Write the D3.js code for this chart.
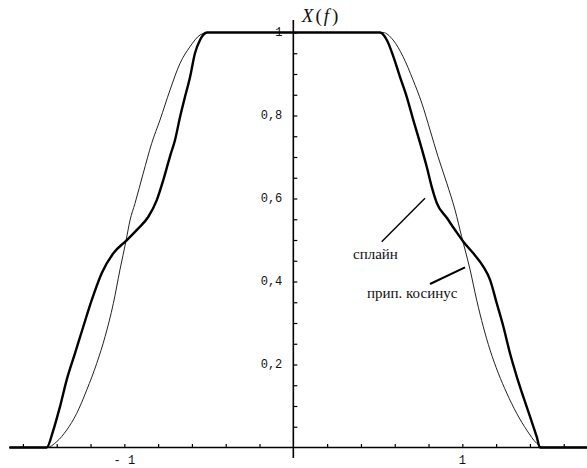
<!DOCTYPE html>
<html>
<head>
<meta charset="utf-8">
<script src="https://cdn.jsdelivr.net/npm/d3@7"></script>
<style>
html,body{margin:0;padding:0;background:#fff;}
svg{display:block;}
</style>
</head>
<body>
<svg id="chart" width="587" height="468"></svg>
<script>
// Spline ("сплайн") curve: [f, X(f)]
const splineF = [-1.68,-1.46,-1.42,-1.381,-1.341,-1.292,-1.243,-1.193,-1.134,-1.065,-0.99,-0.917,-0.858,-0.808,-0.769,-0.73,-0.70,-0.67,-0.641,-0.611,-0.582,-0.552,-0.51,
  0.513,0.553,0.592,0.631,0.671,0.71,0.75,0.789,0.819,0.849,0.909,0.957,1.006,1.065,1.124,1.164,1.204,1.243,1.282,1.322,1.361,1.401,1.44,1.46,1.74];
const splineX = [0,0,0.042,0.098,0.163,0.227,0.291,0.355,0.42,0.468,0.498,0.528,0.556,0.596,0.645,0.701,0.741,0.797,0.845,0.893,0.95,0.982,1,
  1,0.982,0.942,0.893,0.845,0.789,0.734,0.677,0.628,0.589,0.553,0.524,0.496,0.468,0.436,0.404,0.347,0.291,0.227,0.171,0.122,0.074,0.026,0,0];

// Raised cosine ("прип. косинус") curve
const cosineF = [-1.68,-1.459,-1.40,-1.341,-1.282,-1.222,-1.163,-1.114,-1.065,-1.026,-0.99,-0.966,-0.937,-0.888,-0.838,-0.789,-0.73,-0.67,-0.611,-0.552,-0.505,
  0.531,0.59,0.649,0.708,0.76,0.809,0.856,0.908,0.957,0.996,1.046,1.085,1.124,1.164,1.213,1.263,1.322,1.381,1.44,1.478,1.74];
const cosineX = [0,0,0.014,0.042,0.082,0.139,0.203,0.267,0.347,0.428,0.498,0.548,0.588,0.661,0.733,0.789,0.861,0.926,0.966,0.994,1,
  1,0.982,0.942,0.886,0.83,0.765,0.701,0.637,0.572,0.508,0.428,0.355,0.291,0.235,0.179,0.131,0.082,0.042,0.01,0,0];

const xTicks = [-1.6,-1.4,-1.2,-1,-0.8,-0.6,-0.4,-0.2,0.2,0.4,0.6,0.8,1,1.2,1.4,1.6];
const xTickLabels = ["- 1","1"];
const xLabelValues = [-1,1];
const yTicks = [0.05,0.1,0.15,0.2,0.25,0.3,0.35,0.4,0.45,0.5,0.55,0.6,0.65,0.7,0.75,0.8,0.85,0.9,0.95,1];
const yLabelValues = [0.2,0.4,0.6,0.8,1];
const yTickLabels = ["0,2","0,4","0,6","0,8","1"];
const splineLabel = "сплайн";
const cosineLabel = "прип. косинус";

const svg = d3.select("#chart");
const x = d3.scaleLinear().domain([-1.68, 1.74]).range([9.4, 587.4]);
const y = d3.scaleLinear().domain([0, 1]).range([447.5, 32.5]);

// x axis line and ticks
const xAxis = d3.axisBottom(x).tickValues(xTicks).tickSize(-3.5).tickFormat("");
const gx = svg.append("g").attr("transform", `translate(0,${y(0)})`).call(xAxis);
gx.select(".domain").remove();
gx.selectAll(".tick line").attr("stroke", "#000").attr("stroke-width", 1.2);
svg.append("line").attr("x1", x(-1.68)).attr("x2", x(1.74)).attr("y1", y(0)).attr("y2", y(0))
  .attr("stroke", "#000").attr("stroke-width", 1.6);
// x labels
svg.selectAll(".xlab").data(xLabelValues).enter().append("text")
  .attr("x", d => x(d)).attr("y", y(0) + 16.5)
  .attr("text-anchor", "middle")
  .style("font-family", "'Liberation Mono', 'DejaVu Sans Mono', monospace")
  .style("font-size", "12px").attr("fill", "#111")
  .text((d, i) => xTickLabels[i]);

// y axis
const yAxis = d3.axisRight(y).tickValues(yTicks).tickSize(4).tickFormat("");
const gy = svg.append("g").attr("transform", `translate(${x(0)},0)`).call(yAxis);
gy.select(".domain").remove();
gy.selectAll(".tick line").attr("stroke", "#000").attr("stroke-width", 1.2);
svg.append("line").attr("x1", x(0)).attr("x2", x(0)).attr("y1", y(-0.025)).attr("y2", y(1.03))
  .attr("stroke", "#000").attr("stroke-width", 1.6);
svg.selectAll(".ylab").data(yLabelValues).enter().append("text")
  .attr("x", x(0) - 11).attr("y", d => y(d))
  .attr("text-anchor", "end").attr("dominant-baseline", "central")
  .style("font-family", "'Liberation Mono', 'DejaVu Sans Mono', monospace")
  .style("font-size", "12px").attr("fill", "#111")
  .text((d, i) => yTickLabels[i]);

// title X(f)
const title = svg.append("text").attr("x", x(0) + 8.5).attr("y", 22)
  .style("font-family", "'Liberation Serif', 'Times New Roman', serif")
  .style("font-size", "19px").attr("fill", "#111");
title.append("tspan").style("font-style", "italic").text("X");
title.append("tspan").attr("dx", 2).text("(");
title.append("tspan").style("font-style", "italic").attr("dx", 2).text("f");
title.append("tspan").attr("dx", 3).text(")");

const line = d3.line().x(d => x(d[0])).y(d => y(d[1])).curve(d3.curveMonotoneX);
const cosPts = cosineF.map((f, i) => [f, cosineX[i]]);
const splPts = splineF.map((f, i) => [f, splineX[i]]);

svg.append("path").attr("d", line(cosPts)).attr("fill", "none")
  .attr("stroke", "#222").attr("stroke-width", 1);
svg.append("path").attr("d", line(splPts)).attr("fill", "none")
  .attr("stroke", "#000").attr("stroke-width", 2.4).attr("stroke-linejoin", "round");

// annotations
svg.append("line").attr("x1", 381.7).attr("y1", 241.7).attr("x2", 425).attr("y2", 198.3)
  .attr("stroke", "#000").attr("stroke-width", 1.4);
svg.append("text").attr("x", 353).attr("y", 259)
  .style("font-family", "'Liberation Serif', 'Times New Roman', serif")
  .style("font-size", "15px").attr("fill", "#111").text(splineLabel);
svg.append("line").attr("x1", 430).attr("y1", 284).attr("x2", 465).attr("y2", 267.3)
  .attr("stroke", "#000").attr("stroke-width", 2);
svg.append("text").attr("x", 367).attr("y", 298)
  .style("font-family", "'Liberation Serif', 'Times New Roman', serif")
  .style("font-size", "15px").attr("fill", "#111").text(cosineLabel);
</script>
</body>
</html>
